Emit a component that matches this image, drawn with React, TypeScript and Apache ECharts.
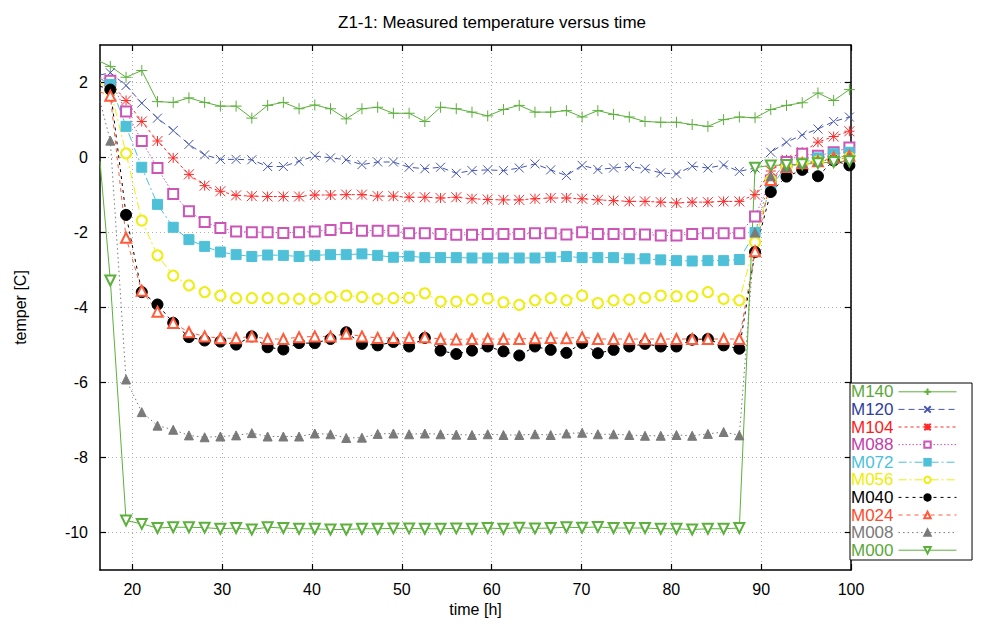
import React, { useEffect, useRef } from 'react';
import * as echarts from 'echarts';

const times = [16.4, 17.55, 19.3, 21.05, 22.8, 24.55, 26.3, 28.05, 29.8, 31.55, 33.3, 35.06, 36.81, 38.56, 40.31, 42.06, 43.81, 45.56, 47.31, 49.06, 50.81, 52.56, 54.31, 56.06, 57.81, 59.56, 61.31, 63.07, 64.82, 66.57, 68.32, 70.07, 71.82, 73.57, 75.32, 77.07, 78.82, 80.57, 82.32, 84.07, 85.82, 87.57, 89.32, 91.07, 92.82, 94.57, 96.32, 98.07, 99.82];

const m140 = [2.56, 2.43, 2.14, 2.32, 1.49, 1.47, 1.59, 1.47, 1.37, 1.37, 1.05, 1.39, 1.47, 1.30, 1.40, 1.30, 1.03, 1.30, 1.34, 1.18, 1.18, 0.96, 1.34, 1.30, 1.21, 1.11, 1.28, 1.39, 1.21, 1.21, 1.25, 1.08, 1.25, 1.15, 1.08, 0.96, 0.94, 0.94, 0.88, 0.83, 1.01, 1.08, 1.06, 1.28, 1.39, 1.46, 1.72, 1.52, 1.81];
const m120 = [2.2, 2.26, 1.92, 1.45, 1.05, 0.72, 0.35, 0.07, -0.05, -0.05, -0.06, -0.24, -0.24, -0.10, 0.04, -0.01, -0.06, -0.19, -0.12, -0.12, -0.26, -0.30, -0.26, -0.42, -0.35, -0.33, -0.35, -0.28, -0.17, -0.33, -0.48, -0.21, -0.32, -0.28, -0.24, -0.30, -0.41, -0.44, -0.23, -0.28, -0.20, -0.37, -0.28, 0.14, 0.41, 0.60, 0.76, 0.96, 1.08];
const m104 = [2.1, 2.0, 1.52, 0.96, 0.44, -0.01, -0.45, -0.75, -0.90, -1.01, -1.03, -1.04, -1.04, -1.04, -1.00, -1.00, -0.99, -0.99, -1.03, -1.03, -1.06, -1.06, -1.08, -1.06, -1.10, -1.12, -1.13, -1.13, -1.10, -1.08, -1.08, -1.10, -1.13, -1.15, -1.17, -1.17, -1.19, -1.21, -1.19, -1.19, -1.17, -1.17, -0.99, -0.36, -0.06, 0.14, 0.41, 0.56, 0.70];
const m088 = [2.15, 2.05, 1.23, 0.44, -0.28, -0.97, -1.43, -1.72, -1.88, -1.97, -1.99, -1.99, -2.01, -1.99, -1.97, -1.93, -1.88, -1.95, -1.95, -1.95, -2.02, -2.02, -2.04, -2.06, -2.06, -2.04, -2.04, -2.04, -2.02, -2.02, -2.05, -1.99, -2.04, -2.04, -2.04, -2.05, -2.08, -2.08, -2.04, -2.02, -2.02, -2.02, -1.57, -0.61, -0.12, 0.10, 0.05, 0.14, 0.27];
const m072 = [2.1, 1.95, 0.83, -0.26, -1.25, -1.86, -2.19, -2.37, -2.52, -2.59, -2.64, -2.60, -2.61, -2.64, -2.61, -2.59, -2.59, -2.57, -2.61, -2.66, -2.63, -2.67, -2.67, -2.67, -2.68, -2.68, -2.68, -2.68, -2.68, -2.66, -2.64, -2.67, -2.67, -2.67, -2.70, -2.70, -2.73, -2.75, -2.76, -2.75, -2.75, -2.72, -2.00, -0.80, -0.21, -0.15, -0.01, 0.10, 0.14];
const m056 = [2.0, 1.8, 0.11, -1.68, -2.61, -3.15, -3.41, -3.59, -3.68, -3.75, -3.75, -3.75, -3.76, -3.77, -3.77, -3.72, -3.68, -3.72, -3.77, -3.75, -3.74, -3.62, -3.84, -3.84, -3.79, -3.76, -3.86, -3.93, -3.81, -3.75, -3.81, -3.68, -3.88, -3.81, -3.79, -3.74, -3.68, -3.70, -3.70, -3.59, -3.77, -3.81, -2.26, -0.60, -0.25, -0.15, -0.10, -0.05, 0.00];
const m040 = [1.9, 1.81, -1.53, -3.59, -3.92, -4.41, -4.79, -4.88, -4.91, -4.99, -4.77, -5.06, -5.12, -4.95, -4.95, -4.84, -4.66, -4.97, -5.01, -4.92, -5.04, -4.81, -5.15, -5.24, -5.15, -5.04, -5.17, -5.28, -5.04, -5.13, -5.21, -4.95, -5.22, -5.13, -5.04, -4.97, -5.04, -5.04, -4.86, -4.84, -5.01, -5.10, -2.52, -0.92, -0.51, -0.33, -0.50, -0.08, -0.21];
const m024 = [1.75, 1.65, -2.14, -3.55, -4.11, -4.41, -4.66, -4.77, -4.82, -4.82, -4.77, -4.84, -4.84, -4.79, -4.77, -4.77, -4.70, -4.77, -4.81, -4.81, -4.81, -4.79, -4.84, -4.85, -4.84, -4.84, -4.84, -4.84, -4.82, -4.81, -4.82, -4.79, -4.84, -4.84, -4.84, -4.84, -4.84, -4.84, -4.84, -4.84, -4.84, -4.84, -2.50, -0.60, -0.25, -0.15, -0.10, 0.00, 0.05];
const m008 = [1.5, 0.45, -5.92, -6.79, -7.15, -7.26, -7.41, -7.46, -7.44, -7.41, -7.35, -7.44, -7.44, -7.44, -7.36, -7.38, -7.48, -7.47, -7.37, -7.36, -7.38, -7.36, -7.38, -7.39, -7.40, -7.38, -7.40, -7.40, -7.38, -7.40, -7.36, -7.34, -7.38, -7.38, -7.40, -7.42, -7.42, -7.40, -7.42, -7.37, -7.32, -7.41, -2.00, -0.50, -0.25, -0.15, -0.10, -0.05, 0.00];
const m000 = [-0.1, -3.28, -9.68, -9.77, -9.88, -9.86, -9.86, -9.87, -9.90, -9.88, -9.92, -9.86, -9.88, -9.90, -9.90, -9.92, -9.92, -9.90, -9.90, -9.89, -9.89, -9.90, -9.90, -9.89, -9.90, -9.88, -9.90, -9.87, -9.89, -9.88, -9.86, -9.87, -9.85, -9.88, -9.88, -9.88, -9.90, -9.90, -9.92, -9.90, -9.90, -9.88, -0.27, -0.21, -0.20, -0.18, -0.15, -0.12, -0.10];

const xTicks = [20, 30, 40, 50, 60, 70, 80, 90, 100];
const yTicks = [-10, -8, -6, -4, -2, 0, 2];

const FONT = 'Liberation Sans, Arial, sans-serif';

const PLUS = 'path://M5,0L5,10M0,5L10,5';
const CROSS = 'path://M0,0L10,10M10,0L0,10';
const STAR = 'path://M0,0L10,10M10,0L0,10M5,0L5,10M0,5L10,5';

type Spec = {
  name: string;
  values: number[];
  color: string;
  symbol: string;
  size: number;
  dash: any;
  rotate?: number;
};

const specs: Spec[] = [
  { name: 'M140', values: m140, color: '#5cb03c', symbol: PLUS, size: 11, dash: 'solid' },
  { name: 'M120', values: m120, color: '#4656b4', symbol: CROSS, size: 9, dash: [6, 4] },
  { name: 'M104', values: m104, color: '#ff2a2a', symbol: STAR, size: 10, dash: [3, 3] },
  { name: 'M088', values: m088, color: '#cc55b8', symbol: 'emptyRect', size: 10, dash: [1.5, 2] },
  { name: 'M072', values: m072, color: '#4ec0d8', symbol: 'rect', size: 10, dash: [8, 3, 2, 3] },
  { name: 'M056', values: m056, color: '#eeee10', symbol: 'emptyCircle', size: 10, dash: [8, 3, 2, 3] },
  { name: 'M040', values: m040, color: '#000000', symbol: 'circle', size: 11, dash: [3, 4] },
  { name: 'M024', values: m024, color: '#ff5a3a', symbol: 'emptyTriangle', size: 10, dash: [4, 4] },
  { name: 'M008', values: m008, color: '#7a7a7a', symbol: 'triangle', size: 9, dash: [1.5, 3] },
  { name: 'M000', values: m000, color: '#5cb03c', symbol: 'emptyTriangle', size: 10, dash: 'solid', rotate: 180 },
];

const legendTextColors = ['#5aa83a', '#2f3f9e', '#ff1a1a', '#c040a8', '#4cc0dc', '#eeee00', '#000000', '#ff4a2a', '#7a7a7a', '#5aa83a'];

export default function App() {
  const ref = useRef<HTMLDivElement>(null);
  useEffect(() => {
    document.body.style.margin = '0';
    const chart = echarts.init(ref.current!, null, { renderer: 'svg' });
    const axisLine = { show: true, onZero: false, lineStyle: { color: '#000', width: 1.5 } };
    const tickStyle = { color: '#000', width: 1.2 };
    const gridLine = { show: true, lineStyle: { color: '#b0b0b0', type: [1, 3], width: 1 } };
    const series = specs.map((s) => ({
      name: s.name,
      type: 'line',
      data: times.map((t, i) => (i === 0 ? { value: [t, s.values[i]], symbol: 'none' } : [t, s.values[i]])),
      symbol: s.symbol,
      symbolSize: s.size,
      symbolRotate: s.rotate || 0,
      showAllSymbol: true,
      lineStyle: { color: s.color, width: 1, type: s.dash },
      itemStyle: { color: s.color, borderColor: s.color, borderWidth: 1 },
      clip: true,
      z: 2,
    }));
    chart.setOption({
      animation: false,
      textStyle: { fontFamily: FONT },
      title: {
        text: 'Z1-1: Measured temperature versus time',
        left: 'center',
        top: 9,
        textStyle: { fontSize: 17, fontWeight: 'normal', color: '#000', fontFamily: FONT },
      },
      grid: { left: 100, right: 133, top: 45, bottom: 57, containLabel: false },
      legend: {
        orient: 'vertical',
        left: 850,
        top: 383,
        align: 'right',
        itemWidth: 58,
        itemHeight: 8,
        itemGap: 0,
        selectedMode: false,
        backgroundColor: '#fff',
        borderColor: '#000',
        borderWidth: 1,
        borderRadius: 0,
        padding: [0, 15, 1, 1],
        lineStyle: { width: 1 },
        textStyle: { fontSize: 17, lineHeight: 17.6, fontFamily: FONT },
        data: specs.map((s, i) => ({ name: s.name, textStyle: { color: legendTextColors[i] } })),
        z: 10,
      },
      xAxis: [
        {
          type: 'value', min: 16.4, max: 100, position: 'bottom',
          axisLine,
          axisTick: { show: true, inside: true, length: 6, customValues: xTicks, lineStyle: tickStyle },
          axisLabel: { customValues: xTicks, color: '#000', fontSize: 16, margin: 11, fontFamily: FONT },
          splitLine: gridLine,
          name: 'time [h]', nameLocation: 'middle', nameGap: 29,
          nameTextStyle: { color: '#000', fontSize: 16, fontFamily: FONT },
        },
        {
          type: 'value', min: 16.4, max: 100, position: 'top',
          axisLine,
          axisTick: { show: true, inside: true, length: 6, customValues: xTicks, lineStyle: tickStyle },
          axisLabel: { show: false },
          splitLine: { show: false },
        },
      ],
      yAxis: [
        {
          type: 'value', min: -11, max: 3, position: 'left',
          axisLine,
          axisTick: { show: true, inside: true, length: 6, customValues: yTicks, lineStyle: tickStyle },
          axisLabel: { customValues: yTicks, color: '#000', fontSize: 16, margin: 12, fontFamily: FONT },
          splitLine: gridLine,
          name: 'temper [C]', nameLocation: 'middle', nameGap: 72,
          nameTextStyle: { color: '#000', fontSize: 16, fontFamily: FONT },
        },
        {
          type: 'value', min: -11, max: 3, position: 'right',
          axisLine,
          axisTick: { show: true, inside: true, length: 6, customValues: yTicks, lineStyle: tickStyle },
          axisLabel: { show: false },
          splitLine: { show: false },
        },
      ],
      series,
    });
    return () => chart.dispose();
  }, []);
  return <div ref={ref} style={{ width: 984, height: 627 }} />;
}
